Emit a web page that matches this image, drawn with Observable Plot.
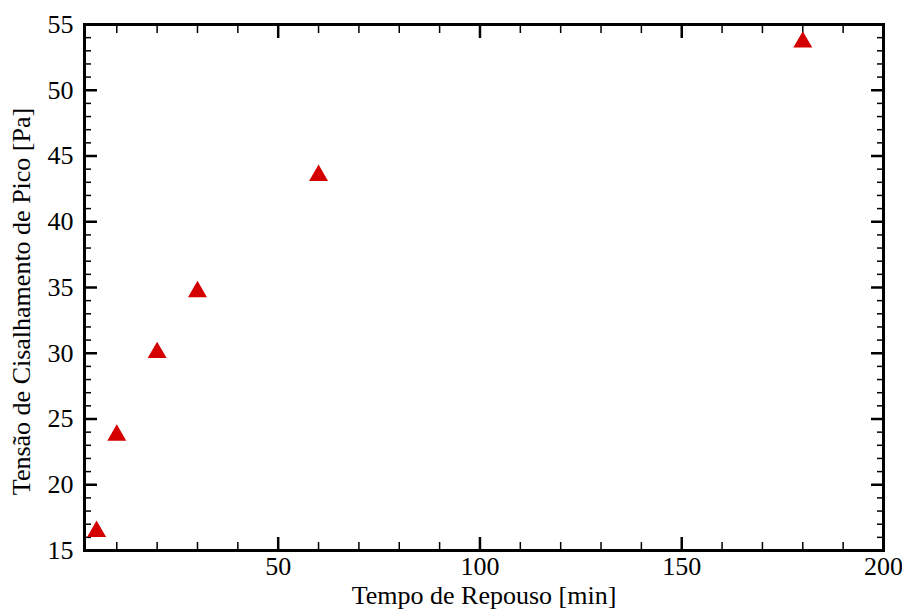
<!DOCTYPE html>
<html>
<head>
<meta charset="utf-8">
<script src="https://cdn.jsdelivr.net/npm/d3@7"></script>
<script src="https://cdn.jsdelivr.net/npm/@observablehq/plot@0.6"></script>
<style>
  html, body { margin: 0; padding: 0; background: #fff; }
  svg { display: block; }
  svg text { font-family: 'Liberation Serif', 'Times New Roman', serif !important; font-variant: normal !important; }
</style>
</head>
<body>
<div id="chart"></div>
<script>
// Data
const restTime = [5, 10, 20, 30, 60, 180];            // Tempo de Repouso [min]
const peakStress = [16.45, 23.76, 30.05, 34.68, 43.52, 53.66]; // Tensão de Cisalhamento de Pico [Pa]

const xMajorTicks = [50, 100, 150, 200];
const xMinorTicks = [10, 20, 30, 40, 60, 70, 80, 90, 110, 120, 130, 140, 160, 170, 180, 190];
const yMajorTicks = [15, 20, 25, 30, 35, 40, 45, 50, 55];
const yMinorTicks = d3.range(16, 55).filter(v => v % 5 !== 0);

const xLabel = "Tempo de Repouso [min]";
const yLabel = "Tensão de Cisalhamento de Pico [Pa]";

const data = restTime.map((t, i) => ({t, s: peakStress[i]}));

const font = "'Liberation Serif', 'Times New Roman', serif";
const blank = () => "";

const chart = Plot.plot({
  width: 902,
  height: 609,
  marginLeft: 84,
  marginRight: 19,
  marginTop: 24,
  marginBottom: 59,
  style: {fontFamily: font, fontSize: "26px", color: "#000", background: "#fff"},
  x: {domain: [2, 200]},
  y: {domain: [15, 55]},
  marks: [
    // minor ticks (inward), all four sides
    Plot.axisX({anchor: "bottom", ticks: xMinorTicks, tickSize: -8, tickFormat: blank, label: null, strokeWidth: 1.5}),
    Plot.axisX({anchor: "top", ticks: xMinorTicks, tickSize: -8, tickFormat: blank, label: null, strokeWidth: 1.5}),
    Plot.axisY({anchor: "left", ticks: yMinorTicks, tickSize: -7, tickFormat: blank, label: null, strokeWidth: 1.5}),
    Plot.axisY({anchor: "right", ticks: yMinorTicks, tickSize: -7, tickFormat: blank, label: null, strokeWidth: 1.5}),
    // major ticks (inward)
    Plot.axisX({anchor: "top", ticks: xMajorTicks, tickSize: -13, tickFormat: blank, label: null, strokeWidth: 2.5}),
    Plot.axisY({anchor: "right", ticks: yMajorTicks, tickSize: -13, tickFormat: blank, label: null, strokeWidth: 2.5}),
    Plot.axisX({anchor: "bottom", ticks: xMajorTicks, tickSize: -13, tickFormat: blank, label: null, strokeWidth: 2.5}),
    Plot.axisY({anchor: "left", ticks: yMajorTicks, tickSize: -13, tickFormat: blank, label: null, strokeWidth: 2.5}),
    // tick labels and axis titles
    Plot.axisX({anchor: "bottom", ticks: xMajorTicks, tickSize: 0, tickPadding: 6, tickFormat: d => String(d),
      label: xLabel, labelAnchor: "center", labelArrow: "none", labelOffset: 53, fontSize: 26, fontFamily: font}),
    Plot.axisY({anchor: "left", ticks: yMajorTicks, tickSize: 0, tickPadding: 11, tickFormat: d => String(d),
      label: null, fontSize: 26, fontFamily: font}),
    Plot.text([yLabel], {frameAnchor: "left", textAnchor: "middle", lineAnchor: "middle", rotate: -90, dx: -63, dy: 14,
      fontSize: 26, fontFamily: font, fill: "#000"}),
    Plot.frame({stroke: "#000", strokeWidth: 3}),
    Plot.dot(data, {x: "t", y: "s", symbol: "triangle", r: 7.05, fill: "#d40000", stroke: "none"})
  ]
});

document.getElementById("chart").appendChild(chart);
</script>
</body>
</html>
